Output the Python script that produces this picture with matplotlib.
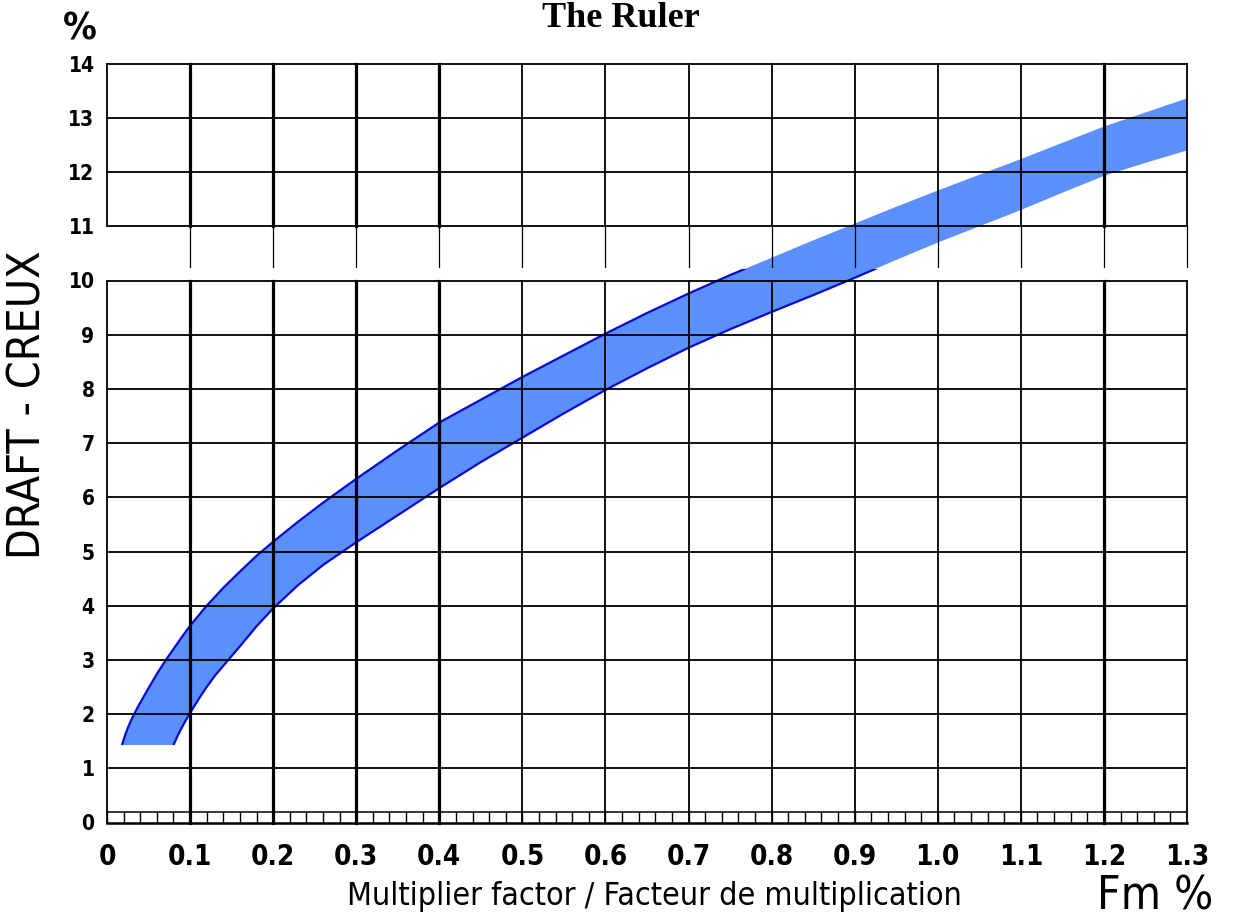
import numpy as np
import matplotlib
matplotlib.use("Agg")
import matplotlib.pyplot as plt
from matplotlib import font_manager as fm
from matplotlib.patches import Rectangle

# ---- data -----------------------------------------------------------------
# upper boundary of the draft band (Fm %, draft %)
upper_x = [0.018, 0.022, 0.026, 0.030, 0.035, 0.040, 0.050, 0.060, 0.070, 0.080,
           0.090, 0.100, 0.120, 0.140, 0.160, 0.180, 0.200, 0.230, 0.260, 0.300,
           0.350, 0.400, 0.450, 0.500, 0.550, 0.600, 0.650, 0.700, 0.750, 0.800,
           0.850, 0.900, 0.950, 1.000, 1.050, 1.100, 1.150, 1.200, 1.250, 1.300]
upper_y = [1.43, 1.62, 1.78, 1.92, 2.07, 2.21, 2.48, 2.74, 2.98, 3.20,
           3.42, 3.63, 4.00, 4.33, 4.63, 4.92, 5.18, 5.55, 5.90, 6.34,
           6.87, 7.38, 7.80, 8.22, 8.62, 9.02, 9.40, 9.76, 10.10, 10.42,
           10.74, 11.05, 11.36, 11.66, 11.95, 12.24, 12.54, 12.84, 13.10, 13.36]
# lower boundary of the draft band
lower_x = [0.080, 0.085, 0.090, 0.095, 0.100, 0.110, 0.120, 0.130, 0.146, 0.160,
           0.180, 0.200, 0.230, 0.260, 0.300, 0.350, 0.400, 0.450, 0.500, 0.550,
           0.600, 0.650, 0.700, 0.750, 0.800, 0.850, 0.900, 0.950, 1.000, 1.050,
           1.100, 1.150, 1.200, 1.250, 1.300]
lower_y = [1.43, 1.60, 1.75, 1.89, 2.02, 2.27, 2.50, 2.71, 3.00, 3.25,
           3.62, 3.95, 4.38, 4.75, 5.17, 5.67, 6.17, 6.65, 7.10, 7.55,
           7.98, 8.38, 8.76, 9.10, 9.42, 9.73, 10.05, 10.38, 10.70, 11.00,
           11.30, 11.62, 11.93, 12.17, 12.40]

x_ticks = [0, 0.1, 0.2, 0.3, 0.4, 0.5, 0.6, 0.7, 0.8, 0.9, 1.0, 1.1, 1.2, 1.3]
x_tick_labels = ["0", "0.1", "0.2", "0.3", "0.4", "0.5", "0.6", "0.7", "0.8",
                 "0.9", "1.0", "1.1", "1.2", "1.3"]
y_ticks = list(range(0, 15))
y_tick_labels = [str(v) for v in y_ticks]
heavy_x = [0.1, 0.2, 0.3, 0.4, 1.2]       # emphasised vertical rules

# ---- fonts ------------------------------------------------------------------
avail = {f.name for f in fm.fontManager.ttflist}
if "Liberation Sans Narrow" in avail:
    SANS = dict(family="Liberation Sans Narrow")
else:
    SANS = dict(family="DejaVu Sans", stretch="condensed")

# ---- figure ---------------------------------------------------------------
W, H, DPI = 1236, 923, 100
fig = plt.figure(figsize=(W / DPI, H / DPI), dpi=DPI, facecolor="white")
ax = fig.add_axes([107 / W, 1 - 822.5 / H, (1187 - 107) / W, (822.5 - 63.7) / H])
ax.set_xlim(0, 1.3)
ax.set_ylim(0, 14)
for s in ax.spines.values():
    s.set_visible(False)

BAND = "#5b8ff9"
EDGE = "#0a0ad0"
GAP_LO, GAP_HI, BREAK = 10.0, 10.24, 11.0

# band
poly_x = list(upper_x) + list(lower_x)[::-1]
poly_y = list(upper_y) + list(lower_y)[::-1]
ax.fill(poly_x, poly_y, color=BAND, lw=0, zorder=1)
clip = Rectangle((0, 0), 1.3, GAP_HI - 0.02, transform=ax.transData)
for xs, ys in ((upper_x, upper_y), (lower_x, lower_y)):
    ln, = ax.plot(xs, ys, color=EDGE, lw=1.6, zorder=2, solid_capstyle="butt")
    ln.set_clip_path(clip)

# grid: horizontal rules
thin = 1.3
for y in y_ticks[1:]:
    ax.plot([0, 1.3], [y, y], color="black", lw=thin, zorder=3, clip_on=False)
ax.plot([0, 1.3], [0, 0], color="black", lw=1.8, zorder=3, clip_on=False)

# grid: vertical rules (broken between 10 and 11)
for x in x_ticks:
    lw = 2.3 if any(abs(x - h) < 1e-9 for h in heavy_x) else thin
    ax.plot([x, x], [0, GAP_LO], color="black", lw=lw, zorder=3, clip_on=False)
    ax.plot([x, x], [BREAK, 14], color="black", lw=lw, zorder=3, clip_on=False)
    if x > 0:
        ax.plot([x, x], [GAP_HI, BREAK], color="black", lw=0.9, zorder=3,
                clip_on=False)

# fine scale strip along the bottom
strip_top = 0.19
ax.plot([0, 1.3], [strip_top, strip_top], color="black", lw=1.1, zorder=3)
for x in np.arange(0, 1.3001, 0.02):
    ax.plot([x, x], [0, strip_top], color="black", lw=1.0, zorder=3)

# ticks
ax.set_xticks(x_ticks)
ax.set_xticklabels(x_tick_labels, fontsize=20, fontweight="bold", **SANS)
ax.set_yticks(y_ticks)
ax.set_yticklabels(y_tick_labels, fontsize=15, fontweight="bold", **SANS)
ax.tick_params(axis="x", length=0, pad=15)
ax.tick_params(axis="y", length=0, pad=9)

# labels
fig.text(654 / W, 1 - 897 / H, "Multiplier factor / Facteur de multiplication",
         ha="center", va="center", fontsize=23, **SANS)
fig.text(1155 / W, 1 - 897 / H, "Fm %", ha="center", va="center",
         fontsize=33, **SANS)
fig.text(28 / W, 1 - 405 / H, "DRAFT - CREUX", rotation=90, ha="center",
         va="center", fontsize=32, **SANS)
fig.text(80 / W, 1 - 30 / H, "%", ha="center", va="center", fontsize=27,
         fontweight="bold", **SANS)
fig.text(621 / W, 1 - 27 / H, "The Ruler", ha="center", va="baseline",
         fontsize=26, fontweight="bold", family="Liberation Serif")

fig.savefig("out.png", dpi=DPI, facecolor="white")
